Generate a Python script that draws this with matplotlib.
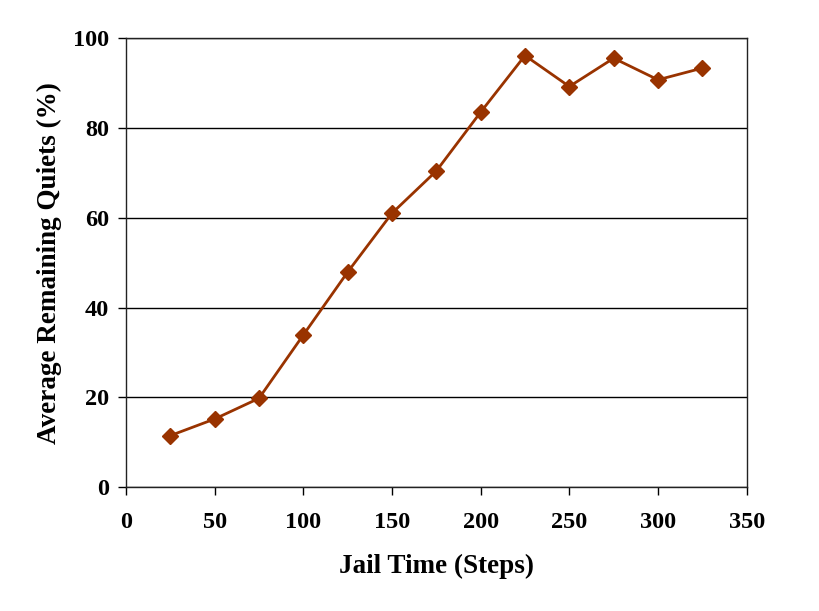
import matplotlib.pyplot as plt

jail_time = [25, 50, 75, 100, 125, 150, 175, 200, 225, 250, 275, 300, 325]
remaining_quiets = [11.5, 15.2, 19.8, 33.9, 47.9, 61.0, 70.4, 83.5, 96.1, 89.2, 95.5, 90.7, 93.3]

x_ticks = [0, 50, 100, 150, 200, 250, 300, 350]
y_ticks = [0, 20, 40, 60, 80, 100]

plt.rcParams["font.family"] = ["Liberation Serif", "DejaVu Serif"]
plt.rcParams["font.weight"] = "bold"

fig = plt.figure(figsize=(8.19, 6.11), dpi=100)
ax = fig.add_axes([0.1538, 0.2025, 0.7579, 0.7353])

ax.plot(jail_time, remaining_quiets, color="#993300", linewidth=2,
        marker="D", markersize=8.5, zorder=3)

ax.set_xlim(0, 350)
ax.set_ylim(0, 100)
ax.set_xticks(x_ticks)
ax.set_yticks(y_ticks)
ax.yaxis.grid(True, color="black", linewidth=1)
ax.set_axisbelow(True)

for s in ax.spines.values():
    s.set_linewidth(1)
    s.set_color("#222222")

ax.tick_params(direction="out", length=6, width=1, labelsize=17.5)
ax.tick_params(axis="x", pad=12)
ax.tick_params(axis="y", pad=6)
for lbl in ax.get_xticklabels() + ax.get_yticklabels():
    lbl.set_fontweight("bold")

ax.set_xlabel("Jail Time (Steps)", fontsize=19.5, fontweight="bold", labelpad=15)
ax.set_ylabel("Average Remaining Quiets (%)", fontsize=19.5, fontweight="bold", labelpad=8)

fig.savefig("out.png", dpi=100, facecolor="white")
